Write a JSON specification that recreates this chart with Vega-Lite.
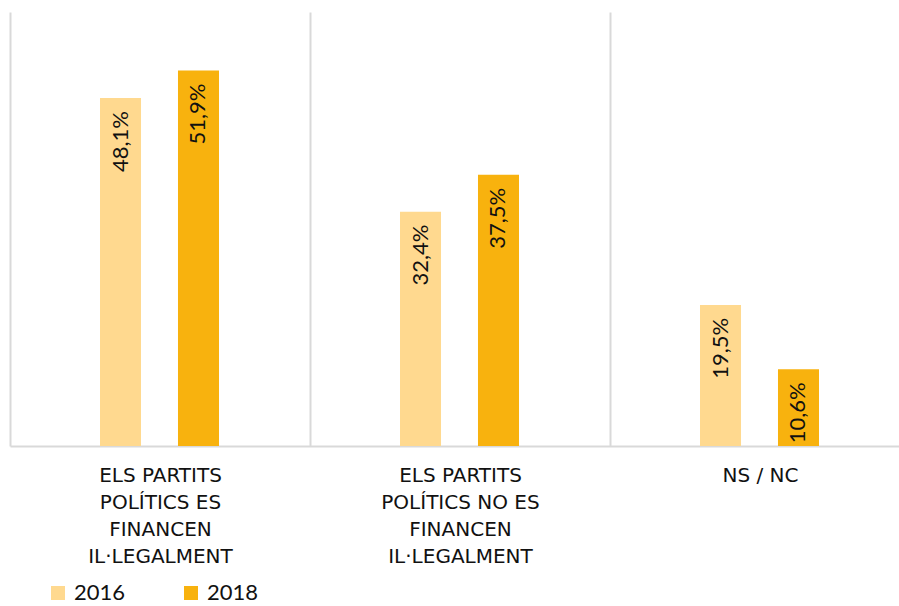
{
  "$schema": "https://vega.github.io/schema/vega-lite/v6.json",
  "width": 888,
  "height": 434,
  "autosize": {"type": "none"},
  "padding": {"left": 10, "top": 12, "right": 1, "bottom": 160},
  "background": "white",
  "data": {
    "values": [
      {"categoria": "ELS PARTITS POLÍTICS ES FINANCEN IL·LEGALMENT", "any": "2016", "valor": 0.481},
      {"categoria": "ELS PARTITS POLÍTICS ES FINANCEN IL·LEGALMENT", "any": "2018", "valor": 0.519},
      {"categoria": "ELS PARTITS POLÍTICS NO ES FINANCEN IL·LEGALMENT", "any": "2016", "valor": 0.324},
      {"categoria": "ELS PARTITS POLÍTICS NO ES FINANCEN IL·LEGALMENT", "any": "2018", "valor": 0.375},
      {"categoria": "NS / NC", "any": "2016", "valor": 0.195},
      {"categoria": "NS / NC", "any": "2018", "valor": 0.106}
    ]
  },
  "encoding": {
    "x": {
      "field": "categoria",
      "type": "nominal",
      "sort": null,
      "scale": {"paddingInner": 0, "paddingOuter": 0, "range": [0, 900]},
      "axis": {
        "title": null,
        "labelAngle": 0,
        "labelExpr": "datum.value == 'ELS PARTITS POLÍTICS ES FINANCEN IL·LEGALMENT' ? ['ELS PARTITS', 'POLÍTICS ES', 'FINANCEN', 'IL·LEGALMENT'] : datum.value == 'ELS PARTITS POLÍTICS NO ES FINANCEN IL·LEGALMENT' ? ['ELS PARTITS', 'POLÍTICS NO ES', 'FINANCEN', 'IL·LEGALMENT'] : datum.value",
        "labelFont": "DejaVu Sans",
        "labelFontSize": 20,
        "labelLineHeight": 27,
        "labelColor": "#111111",
        "labelPadding": 19,
        "labelLimit": 0,
        "ticks": false,
        "tickBand": "extent",
        "grid": true,
        "gridColor": "#d9d9d9",
        "gridWidth": 2,
        "domain": true,
        "domainColor": "#d9d9d9",
        "domainWidth": 2
      }
    },
    "xOffset": {
      "field": "any",
      "type": "nominal",
      "scale": {"paddingInner": 0.474, "paddingOuter": 0, "range": [90, 209]}
    },
    "y": {
      "field": "valor",
      "type": "quantitative",
      "scale": {"domain": [0, 0.6], "nice": false},
      "axis": null
    }
  },
  "layer": [
    {
      "mark": {"type": "bar"},
      "encoding": {
        "color": {
          "field": "any",
          "type": "nominal",
          "scale": {"domain": ["2016", "2018"], "range": ["#FFD98F", "#F8B20E"]},
          "legend": {
            "title": null,
            "orient": "none",
            "legendX": 37,
            "legendY": 570,
            "direction": "horizontal",
            "symbolType": "square",
            "symbolSize": 196,
            "symbolStrokeWidth": 0,
            "labelFont": "Lato",
            "labelFontSize": 22,
            "labelColor": "#111111",
            "labelOffset": 5,
            "columnPadding": 54
          }
        }
      }
    },
    {
      "mark": {
        "type": "text",
        "angle": 270,
        "align": "right",
        "baseline": "middle",
        "dx": -13,
        "font": "Lato",
        "fontSize": 22,
        "color": "#111111"
      },
      "encoding": {
        "text": {"field": "valor", "type": "quantitative", "format": ".1%"}
      }
    }
  ],
  "config": {
    "view": {"stroke": null},
    "locale": {
      "number": {"decimal": ",", "thousands": ".", "grouping": [3], "currency": ["", " €"]}
    }
  }
}
